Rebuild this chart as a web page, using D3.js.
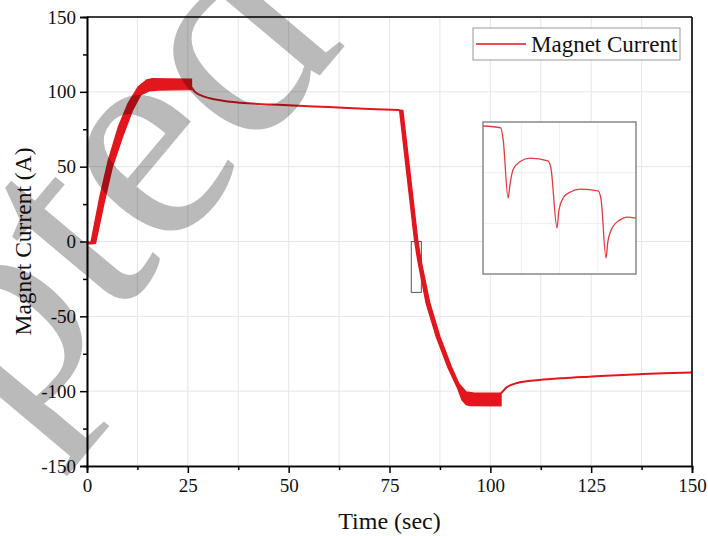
<!DOCTYPE html>
<html><head><meta charset="utf-8">
<script src="https://cdn.jsdelivr.net/npm/d3@7"></script>
<style>body{margin:0;background:#fff}svg{display:block}</style>
</head><body><svg id="c" width="708" height="536"></svg>
<script>
const xTicks=[0,25,50,75,100,125,150];
const yTicks=[-150,-100,-50,0,50,100,150];
const seriesName="Magnet Current";
// ramp-up ripple band (edges), seconds / amperes
const riseUpT=[0,1.0,3.2,5.3,7.8,10.2,12.7,14.8,16.0,20,25.9];
const riseUpA=[-0.5,-0.5,29.9,54.4,76.7,92.3,103.4,107.9,108.7,108.6,108.5];
const riseLoT=[0,1.0,2.1,4.2,6.3,8.8,11.3,13.3,15.4,17.7,25.9];
const riseLoA=[-1.5,-1.5,-1.2,25.5,50.0,70.0,87.8,97.9,100.7,101.2,101.5];
// decay after ramp-up (single line)
const decayT=[25.9,26.5,26.7,28,30.4,33.7,40.3,48.6,60,70,77.5];
const decayA=[103,100.8,100.1,97.9,95.7,94.1,92.3,91.2,89.8,88.6,87.8];
// ramp-down ripple band (edges)
const fallUpT=[77.5,78.3,80.1,82.0,82.8,85.0,87.5,90.3,92.2,94.0,96,102.65];
const fallUpA=[87.8,87.6,45.5,1.0,-12.4,-41.3,-63.6,-83.6,-95,-100.5,-101.3,-101.4];
const fallLoT=[77.5,79.3,81.2,82.0,84.1,86.6,89.4,91.2,91.9,93.0,94.0,95,102.65];
const fallLoA=[87.8,45.5,1.0,-12.4,-41.3,-63.6,-83.6,-94,-98.1,-106,-109,-109.6,-109.8];
// recovery after ramp-down (single line)
const recovT=[102.65,103.3,103.9,105,106.4,109,112.1,118,124.5,130,136.9,143,150];
const recovA=[-101.5,-99.5,-97.7,-96,-94.7,-93.4,-92.5,-91.3,-90.3,-89.5,-88.7,-88.1,-87.6];
// inset (zoom of ripple)
const insetDomT=[80.4,82.9], insetDomA=[-34,0];
const insetT=[80.40,80.69,80.73,80.81,80.84,80.89,81.00,81.17,81.46,81.51,81.61,81.64,81.71,81.82,81.99,82.28,82.33,82.41,82.44,82.52,82.64,82.75,82.90];
const insetA=[-0.9,-1.3,-4.0,-17.0,-14.1,-10.7,-8.9,-8.1,-8.7,-10.3,-23.7,-19.7,-17.0,-15.7,-15.0,-15.4,-17.4,-30.4,-26.8,-23.5,-21.9,-21.3,-21.5];
const watermark="Accepted";

const RED="#e3151d";
const FONT="'Liberation Serif','Times New Roman',serif";
const svg=d3.select("#c");
const L=87,R=692,T=17,B=466;
const x=d3.scaleLinear().domain([0,150]).range([L,R]);
const y=d3.scaleLinear().domain([-150,150]).range([B,T]);

// grid
const xGrid=d3.range(0,150.01,12.5);
svg.append("g").selectAll("line").data(xGrid).join("line")
  .attr("x1",d=>x(d)).attr("x2",d=>x(d)).attr("y1",T).attr("y2",B)
  .attr("stroke","#e6e6e6").attr("stroke-width",1);
svg.append("g").selectAll("line").data(yTicks).join("line")
  .attr("x1",L).attr("x2",R).attr("y1",d=>y(d)).attr("y2",d=>y(d))
  .attr("stroke","#e6e6e6").attr("stroke-width",1);

// data
const pts=(ts,as)=>ts.map((t,i)=>[x(t),y(as[i])]);
const bandPath=(uT,uA,lT,lA)=>d3.line().curve(d3.curveLinearClosed)(pts(uT,uA).concat(pts(lT,lA).reverse()));
const line=d3.line().curve(d3.curveMonotoneX);
const gD=svg.append("g");
gD.append("path").attr("d",bandPath(riseUpT,riseUpA,riseLoT,riseLoA)).attr("fill",RED).attr("stroke",RED).attr("stroke-width",1.4).attr("stroke-linejoin","round");
gD.append("path").attr("d",line(pts(decayT,decayA))).attr("fill","none").attr("stroke",RED).attr("stroke-width",2);
gD.append("path").attr("d",bandPath(fallUpT,fallUpA,fallLoT,fallLoA)).attr("fill",RED).attr("stroke",RED).attr("stroke-width",1.4).attr("stroke-linejoin","round");
gD.append("path").attr("d",line(pts(recovT,recovA))).attr("fill","none").attr("stroke",RED).attr("stroke-width",2);

// zoom rectangle
svg.append("rect").attr("x",x(insetDomT[0])).attr("y",y(insetDomA[1]))
  .attr("width",x(insetDomT[1])-x(insetDomT[0])).attr("height",y(insetDomA[0])-y(insetDomA[1]))
  .attr("fill","none").attr("stroke","#555").attr("stroke-width",1);

// axes
const fmt=d=>String(d);
const xAxis=d3.axisBottom(x).tickValues(xTicks).tickSize(7).tickPadding(6).tickFormat(fmt);
const yAxis=d3.axisLeft(y).tickValues(yTicks).tickSize(7).tickPadding(4).tickFormat(fmt);
svg.append("g").attr("transform",`translate(0,${B})`).call(xAxis);
svg.append("g").attr("transform",`translate(${L},0)`).call(yAxis);
// minor
svg.append("g").attr("transform",`translate(0,${B})`).call(d3.axisBottom(x).tickValues(d3.range(12.5,150,25)).tickSize(4).tickFormat(""));
svg.append("g").attr("transform",`translate(${L},0)`).call(d3.axisLeft(y).tickValues(d3.range(-125,150,50)).tickSize(4).tickFormat(""));
svg.selectAll(".domain").attr("stroke","#000").attr("stroke-width",1.6);
svg.selectAll(".tick line").attr("stroke","#000").attr("stroke-width",1.5);
svg.selectAll(".tick text").attr("font-family",FONT).attr("font-size",19).attr("fill","#111");
// top / right border
svg.append("line").attr("x1",L).attr("x2",R).attr("y1",T).attr("y2",T).attr("stroke","#000").attr("stroke-width",1.6);
svg.append("line").attr("x1",R).attr("x2",R).attr("y1",T).attr("y2",B).attr("stroke","#000").attr("stroke-width",1.6);

// titles
svg.append("text").attr("x",(L+R)/2).attr("y",529).attr("text-anchor","middle")
  .attr("font-family",FONT).attr("font-size",24).attr("fill","#111").text("Time (sec)");
svg.append("text").attr("transform",`translate(31,${(T+B)/2}) rotate(-90)`).attr("text-anchor","middle")
  .attr("font-family",FONT).attr("font-size",23.5).attr("fill","#111").text("Magnet Current (A)");

// legend
const lg=svg.append("g");
lg.append("rect").attr("x",473).attr("y",28).attr("width",207).attr("height",32).attr("fill","#fff").attr("stroke","#999").attr("stroke-width",1);
lg.append("line").attr("x1",476).attr("x2",526).attr("y1",44).attr("y2",44).attr("stroke",RED).attr("stroke-width",1.6);
lg.append("text").attr("x",531).attr("y",52).attr("font-family",FONT).attr("font-size",23).attr("fill","#111").text(seriesName);

// inset
const IL=483,IR=636,IT=122,IB=274;
const ix=d3.scaleLinear().domain(insetDomT).range([IL,IR]);
const iy=d3.scaleLinear().domain(insetDomA).range([IB,IT]);
const gi=svg.append("g");
gi.append("rect").attr("x",IL).attr("y",IT).attr("width",IR-IL).attr("height",IB-IT).attr("fill","#fff");
gi.selectAll("line.gv").data([0.25,0.5,0.75]).join("line").attr("class","gv")
  .attr("x1",f=>IL+f*(IR-IL)).attr("x2",f=>IL+f*(IR-IL)).attr("y1",IT).attr("y2",IB).attr("stroke","#f0f0f0");
gi.selectAll("line.gh").data([1/3,2/3]).join("line").attr("class","gh")
  .attr("y1",f=>IT+f*(IB-IT)).attr("y2",f=>IT+f*(IB-IT)).attr("x1",IL).attr("x2",IR).attr("stroke","#f0f0f0");
gi.append("path").attr("d",d3.line().curve(d3.curveMonotoneX)(insetT.map((t,i)=>[ix(t),iy(insetA[i])])))
  .attr("fill","none").attr("stroke","#e33a3f").attr("stroke-width",1.3);
gi.append("rect").attr("x",IL).attr("y",IT).attr("width",IR-IL).attr("height",IB-IT).attr("fill","none").attr("stroke","#777").attr("stroke-width",1.3);

// watermark
svg.append("text").attr("transform","translate(-17,477) rotate(-50)").attr("text-anchor","middle")
  .attr("font-family",FONT).attr("font-size",300).attr("fill","#000").attr("fill-opacity",0.27).text(watermark);
</script></body></html>
